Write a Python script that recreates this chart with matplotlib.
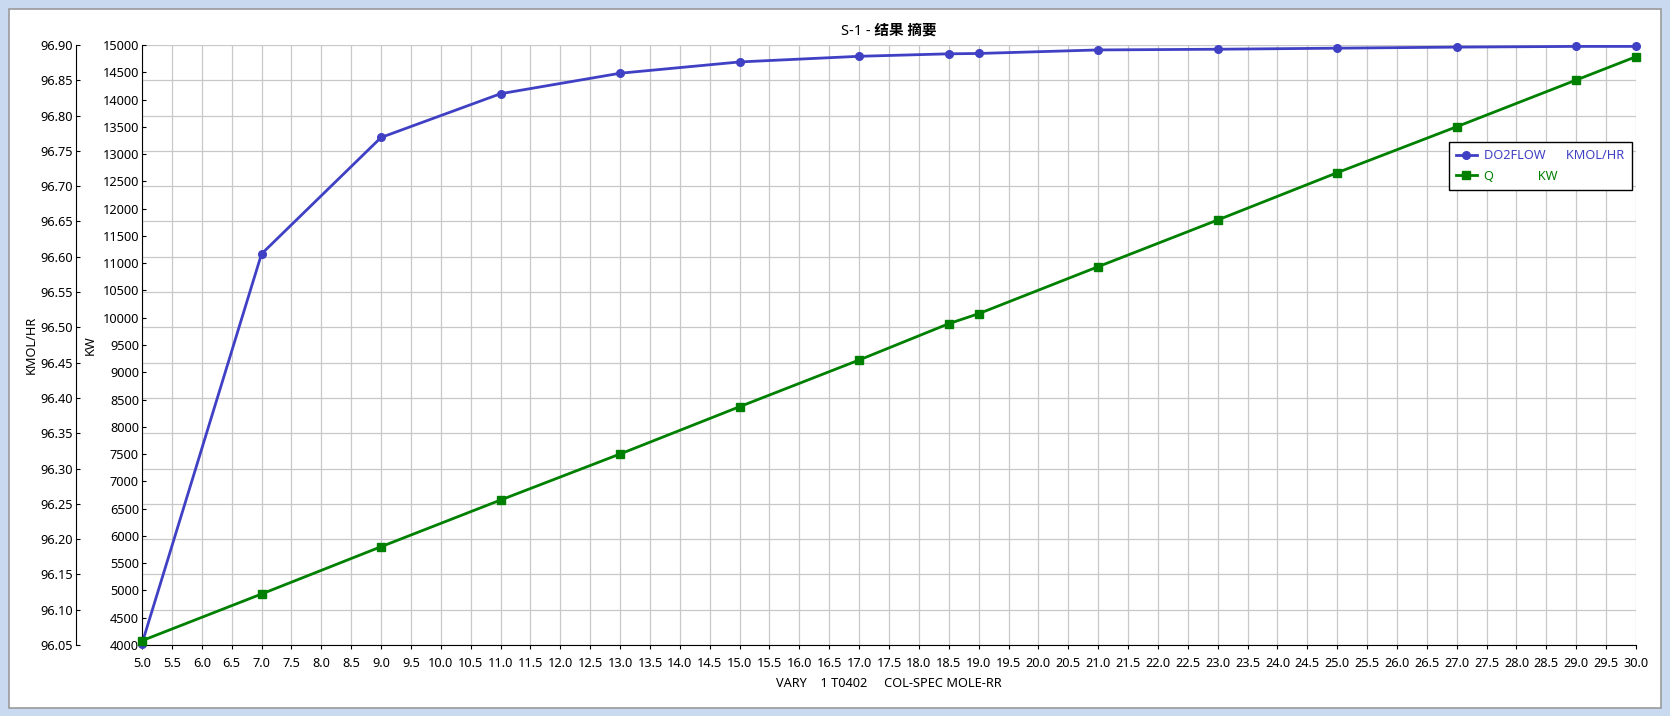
import matplotlib.pyplot as plt
from matplotlib.patches import Rectangle
from matplotlib.ticker import MultipleLocator, FormatStrFormatter

plt.rcParams['font.family'] = ['Noto Sans', 'Noto Sans CJK SC', 'DejaVu Sans']

# --- data ---
rr = [5, 7, 9, 11, 13, 15, 17, 18.5, 19, 21, 23, 25, 27, 29, 30]
do2flow = [96.052, 96.604, 96.769, 96.831, 96.860, 96.876, 96.884, 96.8875,
           96.888, 96.893, 96.894, 96.8955, 96.897, 96.898, 96.898]
q_kw = [4079, 4935, 5802, 6658, 7502, 8369, 9225, 9891, 10074, 10936,
        11792, 12659, 13502, 14358, 14786]

title = "S-1 - 结果 摘要"
xlabel = "VARY    1 T0402     COL-SPEC MOLE-RR"
blue = '#4040c4'
green = '#008000'
FS = 9.2
PT = 72 / 100  # pixels -> points

W, H = 1670, 716
fig = plt.figure(figsize=(W / 100, H / 100), dpi=100)

# window frame
fig.patches.append(Rectangle((0, 0), 1, 1, transform=fig.transFigure,
                             facecolor='#c9daf0', edgecolor='none', zorder=-10))
fig.patches.append(Rectangle((9 / W, 1 - 708 / H), (1661 - 9) / W, (708 - 9) / H,
                             transform=fig.transFigure, facecolor='white',
                             edgecolor='#9a9a9a', linewidth=1.2, zorder=-9))

ax = fig.add_axes([142 / W, 1 - 645 / H, (1636 - 142) / W, 600 / H])
ax.set_facecolor('none')
ax2 = ax.twinx()

# KMOL/HR axis (outer left) carries the grid
ax.plot(rr, do2flow, color=blue, linewidth=2.0, marker='o', markersize=5.5,
        label='DO2FLOW      KMOL/HR', clip_on=False, zorder=3)
ax.set_xlim(5, 30)
ax.set_ylim(96.05, 96.90)
ax.xaxis.set_major_locator(MultipleLocator(0.5))
ax.xaxis.set_major_formatter(FormatStrFormatter('%.1f'))
ax.yaxis.set_major_locator(MultipleLocator(0.05))
ax.yaxis.set_major_formatter(FormatStrFormatter('%.2f'))
ax.grid(True, color='#c8c8c8', linewidth=0.9)
ax.set_axisbelow(True)
ax.spines['left'].set_position(('outward', 66 * PT))
for s in ['top', 'right']:
    ax.spines[s].set_visible(False)
ax.tick_params(axis='y', direction='in', length=4 * PT, pad=3 * PT, labelsize=FS)
ax.tick_params(axis='x', direction='out', length=4 * PT, pad=8 * PT, labelsize=FS)
ax.set_ylabel('KMOL/HR', fontsize=FS)
ax.yaxis.set_label_coords(-0.0696, 0.5)
ax.set_xlabel(xlabel, fontsize=FS)
ax.xaxis.set_label_coords(0.5, -0.053)

# KW axis (inner left)
ax2.plot(rr, q_kw, color=green, linewidth=2.0, marker='s', markersize=6,
         label='Q             KW', clip_on=False, zorder=3)
ax2.set_ylim(4000, 15000)
ax2.yaxis.set_major_locator(MultipleLocator(500))
ax2.yaxis.tick_left()
ax2.yaxis.set_label_position('left')
ax2.spines['left'].set_visible(True)
for s in ['top', 'right', 'bottom']:
    ax2.spines[s].set_visible(False)
ax2.tick_params(axis='y', direction='in', length=4 * PT, pad=3 * PT, labelsize=FS)
ax2.set_ylabel('KW', fontsize=FS)
ax2.yaxis.set_label_coords(-0.0301, 0.5)

ax.text(0.5, 1.023, title, transform=ax.transAxes, ha='center', va='center',
        fontsize=10.5, fontweight='bold')

h1, l1 = ax.get_legend_handles_labels()
h2, l2 = ax2.get_legend_handles_labels()
leg = ax2.legend(h1 + h2, l1 + l2, loc='upper right',
                 bbox_to_anchor=(0.997, 0.838), fontsize=FS, frameon=True,
                 fancybox=False, framealpha=1, edgecolor='black',
                 handlelength=1.6, labelspacing=0.6, borderpad=0.55,
                 handletextpad=0.6, borderaxespad=0)
leg.get_frame().set_linewidth(1)
for txt, c in zip(leg.get_texts(), [blue, green]):
    txt.set_color(c)

fig.savefig('out.png', dpi=100)
